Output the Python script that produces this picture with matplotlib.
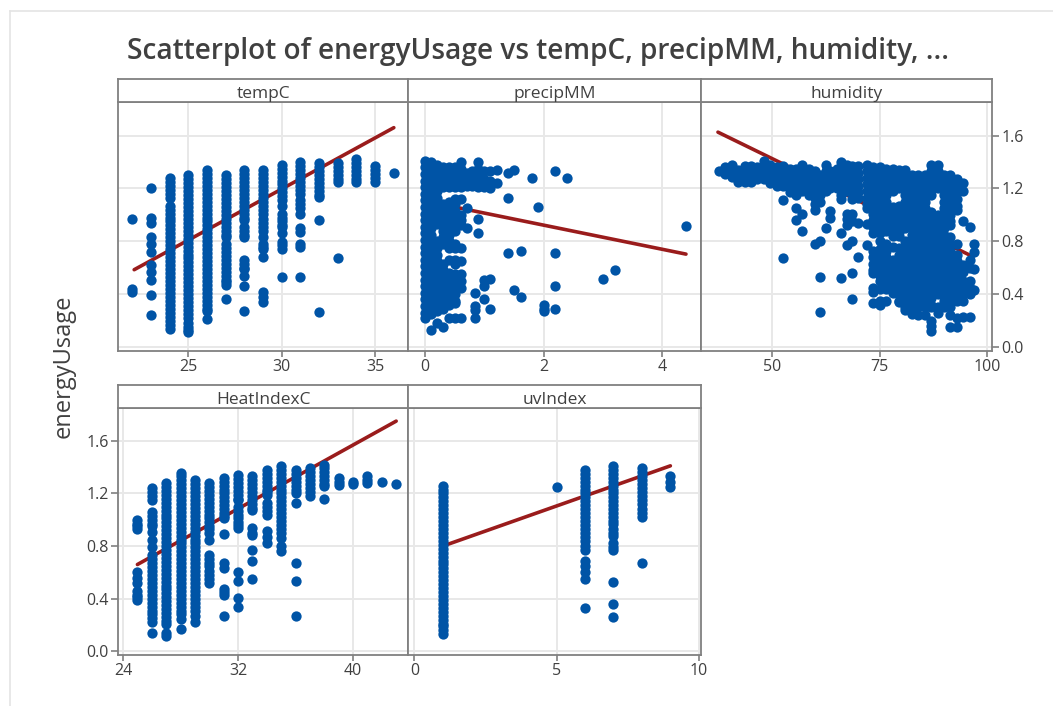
import matplotlib
matplotlib.use('Agg')
import matplotlib.pyplot as plt
from matplotlib.lines import Line2D

# values, one list of y per x column
temp_x = [22, 23, 24, 25, 26, 27, 28, 29, 30, 31, 32, 33, 34, 35, 36]
temp_y = [
    [0.97, 0.44, 0.42],
    [1.20, 0.98, 0.94, 0.83, 0.78, 0.72, 0.62, 0.57, 0.51, 0.39, 0.24],
    [1.28, 1.25, 1.22, 1.19, 1.16, 1.13, 1.07, 1.04, 1.01, 0.98, 0.95, 0.92, 0.89, 0.86, 0.83, 0.80, 0.77, 0.74, 0.71,
     0.68, 0.65, 0.62, 0.59, 0.56, 0.53, 0.50, 0.47, 0.44, 0.41, 0.38, 0.35, 0.32, 0.29, 0.26, 0.23, 0.20, 0.17, 0.14],
    [1.30, 1.27, 1.24, 1.21, 1.18, 1.15, 1.12, 1.09, 1.06, 1.03, 1.0, 0.97, 0.94, 0.91, 0.88, 0.85, 0.82, 0.79, 0.76,
     0.73, 0.70, 0.67, 0.64, 0.61, 0.58, 0.55, 0.52, 0.49, 0.46, 0.43, 0.40, 0.37, 0.34, 0.31, 0.28, 0.25, 0.22, 0.18,
     0.15, 0.13, 0.11],
    [1.34, 1.31, 1.28, 1.25, 1.22, 1.19, 1.16, 1.13, 1.10, 1.07, 1.04, 1.01, 0.98, 0.95, 0.92, 0.89, 0.86, 0.83, 0.80,
     0.77, 0.74, 0.71, 0.68, 0.65, 0.62, 0.59, 0.56, 0.53, 0.50, 0.47, 0.44, 0.41, 0.38, 0.35, 0.32, 0.29, 0.27, 0.21],
    [1.30, 1.27, 1.24, 1.21, 1.18, 1.15, 1.12, 1.09, 1.06, 1.03, 1.0, 0.97, 0.94, 0.91, 0.88, 0.85, 0.83, 0.78, 0.75,
     0.72, 0.69, 0.66, 0.63, 0.60, 0.57, 0.54, 0.51, 0.49, 0.47, 0.36],
    [1.34, 1.31, 1.28, 1.25, 1.22, 1.19, 1.16, 1.13, 1.10, 1.07, 1.04, 1.01, 0.98, 0.96, 0.91, 0.88, 0.85, 0.83, 0.66,
     0.63, 0.60, 0.59, 0.54, 0.46, 0.27],
    [1.34, 1.31, 1.28, 1.25, 1.22, 1.19, 1.16, 1.13, 1.10, 1.07, 1.04, 1.01, 0.97, 0.94, 0.91, 0.88, 0.83, 0.78, 0.76,
     0.745, 0.68, 0.42, 0.38, 0.34],
    [1.38, 1.35, 1.32, 1.29, 1.26, 1.23, 1.20, 1.17, 1.14, 1.11, 1.07, 1.01, 0.98, 0.95, 0.92, 0.91, 0.86, 0.795, 0.77,
     0.745, 0.53],
    [1.40, 1.37, 1.34, 1.31, 1.28, 1.25, 1.22, 1.19, 1.16, 1.11, 1.08, 1.05, 1.01, 0.90, 0.87, 0.78, 0.76, 0.53],
    [1.39, 1.36, 1.33, 1.30, 1.27, 1.24, 1.21, 1.18, 1.15, 1.137, 0.96, 0.265],
    [1.39, 1.36, 1.33, 1.30, 1.27, 1.25, 0.67],
    [1.42, 1.39, 1.36, 1.33, 1.30, 1.27, 1.25],
    [1.37, 1.34, 1.31, 1.28, 1.25],
    [1.32],
]
temp_fit_x = [22.1, 36]
temp_fit_y = [0.585, 1.66]

precip_x = [0.0, 0.1, 0.2, 0.3, 0.4, 0.5, 0.6, 0.7, 0.8, 0.85, 0.9, 1.0, 1.1, 1.22, 1.4, 1.5, 1.62, 1.8, 1.9, 2.0,
            2.2, 2.39, 3.0, 3.2, 4.4]
precip_y = [
    [1.41, 1.36, 1.31, 1.26, 1.21, 1.16, 1.11, 1.06, 1.01, 0.96, 0.91, 0.86, 0.81, 0.76, 0.71, 0.66, 0.61, 0.56, 0.51,
     0.46, 0.41, 0.36, 0.31, 0.26, 0.22],
    [1.40, 1.35, 1.30, 1.25, 1.20, 1.15, 1.10, 1.05, 1.0, 0.95, 0.90, 0.85, 0.80, 0.75, 0.70, 0.65, 0.60, 0.55, 0.50,
     0.45, 0.40, 0.35, 0.30, 0.25, 0.13],
    [1.38, 1.33, 1.28, 1.23, 1.18, 1.13, 1.08, 1.03, 0.98, 0.93, 0.80, 0.75, 0.70, 0.65, 0.60, 0.55, 0.50, 0.45, 0.40,
     0.35, 0.30, 0.27, 0.18],
    [1.36, 1.31, 1.26, 1.21, 1.08, 1.03, 0.98, 0.93, 0.88, 0.83, 0.78, 0.63, 0.58, 0.53, 0.48, 0.43, 0.38, 0.33, 0.29,
     0.15],
    [1.36, 1.31, 1.26, 1.21, 1.10, 1.05, 1.0, 0.95, 0.90, 0.85, 0.80, 0.75, 0.66, 0.56, 0.51, 0.46, 0.41, 0.36, 0.32,
     0.22],
    [1.36, 1.31, 1.26, 1.21, 1.12, 1.08, 1.03, 0.98, 0.93, 0.88, 0.78, 0.75, 0.66, 0.63, 0.55, 0.50, 0.45, 0.40, 0.35,
     0.33, 0.22],
    [1.40, 1.35, 1.30, 1.25, 1.21, 1.12, 1.0, 0.96, 0.92, 0.75, 0.65, 0.55, 0.50, 0.45, 0.22],
    [1.32, 1.27, 1.22, 1.05, 0.90],
    [1.33, 1.27, 1.22],
    [0.41, 0.31, 0.28, 0.22],
    [1.40, 1.35, 1.30, 1.25, 1.21, 0.97, 0.86],
    [1.33, 1.27, 1.21, 0.51, 0.46, 0.36],
    [1.33, 1.26, 1.20, 0.515, 0.29],
    [1.34, 1.24],
    [1.32, 1.125, 0.71],
    [1.34, 0.43],
    [0.725, 0.375],
    [1.28],
    [1.06],
    [0.32, 0.29, 0.27],
    [1.335, 0.71, 0.46, 0.29],
    [1.28],
    [0.514],
    [0.582],
    [0.918],
]
precip_fit_x = [0.0, 4.4]
precip_fit_y = [1.105, 0.703]

humidity_x = [37.5, 39, 40.5, 42, 43.5, 45, 46.5, 48, 49.5, 51, 52.5, 54, 55.5, 57, 58.5, 60, 61, 62.5, 63.5, 65, 66,
              67.5, 68.5, 70, 72, 73.5, 75, 76.5, 78, 79.5, 81, 82.5, 84, 85.5, 87, 88.5, 90, 91.5, 93, 94.5, 96, 97]
humidity_y = [
    [1.33],
    [1.36, 1.31],
    [1.38, 1.33, 1.29],
    [1.34, 1.29, 1.25],
    [1.37, 1.32, 1.27, 1.25],
    [1.37, 1.32, 1.27, 1.25],
    [1.36, 1.31, 1.27],
    [1.41, 1.36, 1.31, 1.27],
    [1.38, 1.33, 1.28, 1.24],
    [1.36, 1.31, 1.26, 1.22],
    [1.37, 1.32, 1.27, 1.22, 1.11, 0.67],
    [1.35, 1.30, 1.25, 1.20, 1.17],
    [1.35, 1.30, 1.25, 1.20, 1.15, 1.05, 0.96],
    [1.38, 1.33, 1.28, 1.23, 1.18, 1.01, 0.88],
    [1.35, 1.30, 1.25, 1.20, 1.15],
    [1.33, 1.28, 1.23, 1.18, 1.13, 1.08, 1.04, 0.78],
    [1.30, 1.25, 1.20, 1.15, 1.10, 0.80, 0.53, 0.265],
    [1.38, 1.33, 1.28, 1.23, 1.18, 0.90],
    [1.33, 1.28, 1.23, 1.20, 1.03, 0.98],
    [1.35, 1.30, 1.25, 1.20],
    [1.40, 1.35, 1.30, 1.25, 1.20, 1.15, 1.12, 0.86, 0.52],
    [1.38, 1.33, 1.28, 1.23, 1.18, 1.01, 0.97, 0.92, 0.77],
    [1.37, 1.32, 1.27, 1.22, 1.17, 1.12, 1.01, 0.95, 0.80, 0.56, 0.36],
    [1.37, 1.32, 1.27, 1.22, 1.17, 1.13, 0.94, 0.68],
    [1.38, 1.33, 1.28, 1.23, 1.18, 1.13, 1.08, 1.05, 0.93, 0.77],
    [1.36, 1.31, 1.26, 1.21, 1.16, 1.11, 1.06, 1.01, 0.96, 0.91, 0.86, 0.73, 0.68, 0.63, 0.58, 0.56, 0.45, 0.42, 0.33],
    [1.36, 1.31, 1.26, 1.21, 1.16, 1.11, 1.06, 1.01, 0.96, 0.91, 0.86, 0.80, 0.74, 0.69, 0.64, 0.59, 0.54, 0.50, 0.44,
     0.35, 0.32],
    [1.35, 1.30, 1.25, 1.20, 1.15, 1.10, 1.05, 1.0, 0.95, 0.90, 0.88, 0.78, 0.73, 0.68, 0.63, 0.58, 0.53, 0.48, 0.44,
     0.35],
    [1.35, 1.30, 1.25, 1.20, 1.18, 1.06, 1.01, 0.96, 0.91, 0.86, 0.84, 0.76, 0.66, 0.61, 0.56, 0.51, 0.46, 0.41],
    [1.34, 1.29, 1.24, 1.20, 1.07, 1.02, 0.97, 0.92, 0.87, 0.84, 0.75, 0.70, 0.65, 0.60, 0.55, 0.50, 0.45, 0.40, 0.35,
     0.34],
    [1.34, 1.29, 1.24, 1.19, 1.15, 1.10, 1.05, 1.0, 0.95, 0.90, 0.80, 0.75, 0.70, 0.65, 0.60, 0.55, 0.50, 0.45, 0.40,
     0.35, 0.30, 0.28],
    [1.30, 1.25, 1.20, 1.15, 1.10, 1.05, 1.0, 0.95, 0.90, 0.85, 0.80, 0.75, 0.70, 0.65, 0.60, 0.55, 0.50, 0.45, 0.40,
     0.35, 0.30, 0.25],
    [1.30, 1.25, 1.20, 1.15, 1.10, 1.05, 1.0, 0.95, 0.90, 0.85, 0.80, 0.75, 0.70, 0.65, 0.60, 0.55, 0.50, 0.45, 0.40,
     0.35, 0.30, 0.24],
    [1.30, 1.25, 1.20, 1.15, 1.10, 1.05, 1.0, 0.95, 0.90, 0.85, 0.80, 0.75, 0.70, 0.65, 0.60, 0.55, 0.50, 0.45, 0.40,
     0.35, 0.30, 0.24],
    [1.38, 1.33, 1.28, 1.23, 1.18, 1.15, 1.02, 0.97, 0.92, 0.87, 0.82, 0.77, 0.72, 0.67, 0.62, 0.57, 0.52, 0.47, 0.42,
     0.37, 0.32, 0.30, 0.20, 0.16, 0.12],
    [1.38, 1.33, 1.28, 1.23, 1.20, 1.0, 0.95, 0.90, 0.85, 0.80, 0.75, 0.70, 0.65, 0.60, 0.55, 0.50, 0.45, 0.40, 0.30,
     0.26],
    [1.30, 1.25, 1.20, 1.15, 1.10, 1.05, 1.0, 0.95, 0.90, 0.85, 0.80, 0.75, 0.70, 0.65, 0.60, 0.55, 0.50, 0.45, 0.40,
     0.35, 0.30],
    [1.30, 1.25, 1.20, 1.15, 1.10, 1.05, 1.0, 0.95, 0.92, 0.83, 0.78, 0.73, 0.68, 0.63, 0.58, 0.53, 0.48, 0.43, 0.38,
     0.33, 0.30, 0.24, 0.15],
    [1.27, 1.22, 1.17, 1.12, 1.07, 1.04, 0.78, 0.70, 0.65, 0.60, 0.55, 0.50, 0.45, 0.40, 0.35, 0.22, 0.15],
    [1.24, 1.18, 0.95, 0.62, 0.57, 0.50, 0.45, 0.40, 0.35, 0.23],
    [0.91, 0.66, 0.60, 0.50, 0.45, 0.40, 0.23],
    [0.78, 0.72, 0.59, 0.43],
]
humidity_fit_x = [37.3, 96.8]
humidity_fit_y = [1.626, 0.683]

heat_x = [25, 26, 27, 28, 29, 30, 31, 32, 33, 34, 35, 36, 37, 38, 39, 40, 41, 42, 43]
heat_y = [
    [1.0, 0.97, 0.95, 0.93, 0.6, 0.56, 0.52, 0.46, 0.43, 0.41, 0.39],
    [1.24, 1.21, 1.18, 1.15, 1.06, 1.03, 1.0, 0.97, 0.95, 0.91, 0.85, 0.79, 0.735, 0.70, 0.67, 0.64, 0.61, 0.58, 0.55,
     0.52, 0.49, 0.46, 0.43, 0.40, 0.37, 0.34, 0.31, 0.28, 0.25, 0.22, 0.14],
    [1.28, 1.25, 1.22, 1.19, 1.16, 1.13, 1.10, 1.07, 1.04, 1.01, 0.98, 0.95, 0.92, 0.89, 0.86, 0.83, 0.80, 0.77, 0.74,
     0.71, 0.68, 0.65, 0.62, 0.59, 0.56, 0.53, 0.50, 0.47, 0.44, 0.41, 0.38, 0.35, 0.32, 0.29, 0.26, 0.23, 0.205, 0.14,
     0.117],
    [1.355, 1.33, 1.30, 1.27, 1.24, 1.21, 1.18, 1.15, 1.12, 1.09, 1.06, 1.03, 1.0, 0.97, 0.94, 0.91, 0.88, 0.85, 0.82,
     0.79, 0.76, 0.73, 0.70, 0.67, 0.64, 0.61, 0.58, 0.55, 0.52, 0.49, 0.46, 0.43, 0.40, 0.37, 0.34, 0.31, 0.28, 0.243,
     0.167],
    [1.304, 1.27, 1.24, 1.21, 1.18, 1.15, 1.12, 1.09, 1.06, 1.03, 1.0, 0.97, 0.94, 0.91, 0.88, 0.85, 0.82, 0.79, 0.76,
     0.73, 0.70, 0.67, 0.64, 0.61, 0.58, 0.55, 0.52, 0.49, 0.46, 0.43, 0.40, 0.37, 0.34, 0.31, 0.268, 0.222],
    [1.28, 1.25, 1.22, 1.19, 1.16, 1.13, 1.10, 1.07, 1.04, 1.01, 0.98, 0.95, 0.93, 0.90, 0.85, 0.735, 0.70, 0.67, 0.647,
     0.61, 0.58, 0.55, 0.52],
    [1.317, 1.29, 1.26, 1.23, 1.20, 1.17, 1.14, 1.11, 1.08, 1.05, 1.03, 1.01, 0.895, 0.67, 0.63, 0.47, 0.45, 0.43,
     0.268],
    [1.34, 1.31, 1.28, 1.25, 1.22, 1.19, 1.16, 1.15, 1.10, 1.07, 1.04, 1.01, 0.98, 0.96, 0.94, 0.60, 0.533, 0.407,
     0.339],
    [1.33, 1.30, 1.27, 1.24, 1.21, 1.18, 1.15, 1.12, 1.09, 1.077, 0.94, 0.90, 0.887, 0.773, 0.685, 0.546],
    [1.38, 1.35, 1.32, 1.29, 1.26, 1.23, 1.21, 1.19, 1.127, 1.10, 1.07, 1.04, 0.912, 0.87, 0.824],
    [1.405, 1.38, 1.35, 1.32, 1.29, 1.26, 1.23, 1.20, 1.17, 1.14, 1.11, 1.08, 1.05, 1.02, 0.99, 0.96, 0.93, 0.90, 0.862,
     0.80, 0.76],
    [1.38, 1.35, 1.32, 1.29, 1.26, 1.23, 1.2, 1.127, 0.672, 0.533, 0.268],
    [1.39, 1.36, 1.33, 1.30, 1.27, 1.24, 1.21, 1.178],
    [1.418, 1.39, 1.36, 1.33, 1.30, 1.27, 1.254, 1.158],
    [1.317, 1.29, 1.266],
    [1.29, 1.27],
    [1.33, 1.30, 1.279],
    [1.284],
    [1.271],
]
heat_fit_x = [25, 43]
heat_fit_y = [0.66, 1.75]

uv_x = [1, 5, 6, 7, 8, 9]
uv_y = [
    [1.26, 1.23, 1.20, 1.17, 1.14, 1.11, 1.08, 1.05, 1.02, 0.99, 0.96, 0.93, 0.90, 0.87, 0.84, 0.81, 0.78, 0.75, 0.72,
     0.69, 0.66, 0.63, 0.60, 0.57, 0.54, 0.51, 0.48, 0.45, 0.42, 0.39, 0.36, 0.33, 0.30, 0.27, 0.24, 0.21, 0.19, 0.16,
     0.13],
    [1.25],
    [1.38, 1.35, 1.32, 1.29, 1.26, 1.23, 1.20, 1.17, 1.14, 1.11, 1.08, 1.05, 1.02, 0.99, 0.96, 0.93, 0.90, 0.87, 0.84,
     0.80, 0.77, 0.69, 0.65, 0.60, 0.55, 0.33],
    [1.41, 1.38, 1.35, 1.32, 1.29, 1.26, 1.23, 1.20, 1.17, 1.14, 1.11, 1.08, 1.05, 1.02, 0.99, 0.97, 0.93, 0.90, 0.88,
     0.82, 0.79, 0.77, 0.53, 0.36, 0.26],
    [1.39, 1.36, 1.33, 1.30, 1.27, 1.24, 1.21, 1.18, 1.15, 1.12, 1.08, 1.05, 1.02, 0.67],
    [1.33, 1.29, 1.25],
]
uv_fit_x = [1, 9]
uv_fit_y = [0.80, 1.41]

W, H = 1053, 706
BLUE = '#0054A6'
RED = '#9A1C1C'
FRAME = '#808080'
GRID = '#E8E8E8'
TEXT = '#404040'

plt.rcParams['font.family'] = ['Open Sans', 'DejaVu Sans']


def px_axes(fig, left, right, top, bottom):
    # pixel box (y from the top of the image) to a figure axes
    return fig.add_axes([left / W, 1 - bottom / H, (right - left) / W, (bottom - top) / H])


def draw_panel(fig, box, strip_top, name, col_x, col_y, fit_x, fit_y, xlim, xticks, left=False, right=False):
    l, r, t, b = box
    ax = px_axes(fig, l, r, t, b)
    ax.set_xlim(xlim)
    ax.set_ylim(-0.028, 1.852)
    ax.set_xticks(xticks)
    ax.set_yticks([0.0, 0.4, 0.8, 1.2, 1.6])
    ax.grid(True, color=GRID, linewidth=1.4)
    ax.set_axisbelow(True)
    ax.plot(fit_x, fit_y, color=RED, linewidth=2.6, solid_capstyle='round', zorder=2)
    for x, ys in zip(col_x, col_y):
        ax.scatter([x] * len(ys), ys, s=55, color=BLUE, linewidths=0, zorder=3)
    ax.tick_params(axis='x', color=FRAME, labelcolor=TEXT, labelsize=11.5, length=4, width=1.2, pad=2)
    ax.tick_params(axis='y', color=FRAME, labelcolor=TEXT, labelsize=11.5, length=5, width=1.2, pad=2,
                   left=left, labelleft=left, right=right, labelright=right)
    for s in ax.spines.values():
        s.set_color(FRAME)
        s.set_linewidth(1.3)

    strip = px_axes(fig, l, r, strip_top, t)
    strip.set_xticks([])
    strip.set_yticks([])
    for s in strip.spines.values():
        s.set_color(FRAME)
        s.set_linewidth(1.3)
    strip.text(0.5, 0.36, name, transform=strip.transAxes, ha='center', va='center', fontsize=12.5, color=TEXT)
    return ax


fig = plt.figure(figsize=(W / 100, H / 100), dpi=100, facecolor='white')

draw_panel(fig, (118.3, 408.4, 102.3, 350.7), 78.7, 'tempC', temp_x, temp_y, temp_fit_x, temp_fit_y,
           (21.25, 36.78), [25, 30, 35])
draw_panel(fig, (408.4, 700.8, 102.3, 350.7), 78.7, 'precipMM', precip_x, precip_y, precip_fit_x, precip_fit_y,
           (-0.28, 4.65), [0, 2, 4])
draw_panel(fig, (700.8, 992, 102.3, 350.7), 78.7, 'humidity', humidity_x, humidity_y, humidity_fit_x, humidity_fit_y,
           (33.3, 101.2), [50, 75, 100], right=True)
draw_panel(fig, (118.3, 408.4, 407.7, 655), 385, 'HeatIndexC', heat_x, heat_y, heat_fit_x, heat_fit_y,
           (23.67, 43.85), [24, 32, 40], left=True)
draw_panel(fig, (408.4, 700.8, 407.7, 655), 385, 'uvIndex', uv_x, uv_y, uv_fit_x, uv_fit_y,
           (-0.21, 10.07), [0, 5, 10])

fig.text(538 / W, 1 - 52 / H, 'Scatterplot of energyUsage vs tempC, precipMM, humidity, ...', ha='center', va='center',
         fontsize=20.2, fontweight='semibold', color=TEXT)
fig.text(64 / W, 1 - 366 / H, 'energyUsage', rotation=90, ha='center', va='center', fontsize=17, color=TEXT)

# thin page border of the screenshot
fig.add_artist(Line2D([10 / W, 10 / W], [0, 1 - 11 / H], color='#E4E4E4', linewidth=1.2))
fig.add_artist(Line2D([10 / W, 1], [1 - 11 / H, 1 - 11 / H], color='#E4E4E4', linewidth=1.2))

fig.savefig('out.png', dpi=100)
